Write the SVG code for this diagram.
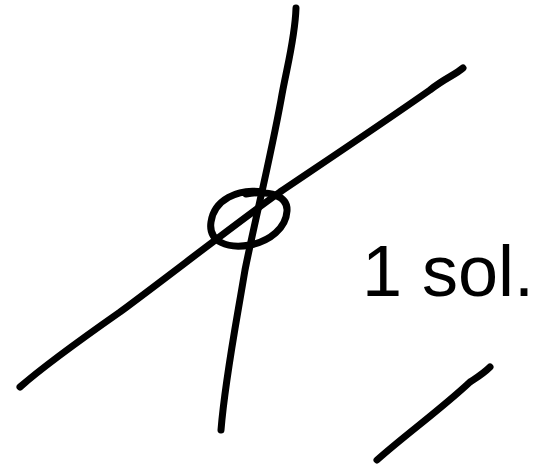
<svg xmlns="http://www.w3.org/2000/svg" width="552" height="464" viewBox="0 0 552 464">
<style>
.s{fill:none;stroke:#000;stroke-width:7;stroke-linecap:round;stroke-linejoin:round}
.t{font-family:"Liberation Sans",Arial,sans-serif;font-size:72px;fill:#000}
</style>
<rect width="552" height="464" fill="#fff"/>
<g id="connectors">
<path class="s" d="M296,8 C295,40 286,70 281,100 C270,160 255,220 245,270 C235,330 225,380 221,430"/>
<path class="s" d="M463,68 C455,75 445,78 430,90 C380,125 320,165 280,192 C230,228 170,275 120,312 C80,340 45,365 20,387"/>
<path class="s" d="M490,367 C483,374 476,378 470,382 C440,410 405,435 377,460"/>
</g>
<g id="circle">
<path class="s" d="M262,192 C238,188 214,200 211,222 C208,242 228,249 250,245 C270,241 286,228 287,211 C288,196 270,190 246,194"/>
</g>
<g id="label">
<text class="t" x="362" y="296">1 sol.</text>
</g>
</svg>
